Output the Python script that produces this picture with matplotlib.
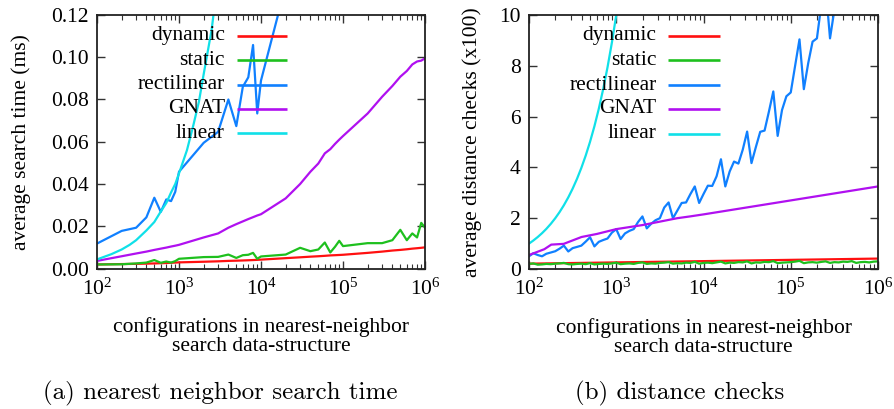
import matplotlib
matplotlib.use('Agg')
import matplotlib.pyplot as plt
from matplotlib.ticker import LogLocator, NullFormatter

plt.rcParams['font.family'] = ['Liberation Serif', 'DejaVu Serif']
plt.rcParams['mathtext.fontset'] = 'custom'
plt.rcParams['mathtext.rm'] = 'Liberation Serif'
plt.rcParams['mathtext.it'] = 'Liberation Serif:italic'

# ---------------- data ----------------
labels = ['dynamic', 'static', 'rectilinear', 'GNAT', 'linear']
colors = ['#ff1010', '#1ec01e', '#1080ff', '#b010f0', '#10e0e8']

x_ticks = [1e2, 1e3, 1e4, 1e5, 1e6]
x_tick_labels = ['$10^{2}$', '$10^{3}$', '$10^{4}$', '$10^{5}$', '$10^{6}$']

# panel (a): average search time (ms)
xs_a = [100, 200, 300, 400, 500, 600, 700, 800, 900,
        1000, 2000, 3000, 4000, 5000, 6000, 7000, 8000, 9000,
        10000, 20000, 30000, 40000, 50000, 60000, 70000, 80000, 90000,
        100000, 200000, 300000, 400000, 500000, 600000, 700000, 800000, 900000,
        1000000]
dynamic_a = [0.0019, 0.0021, 0.0022, 0.0023, 0.0024, 0.0025, 0.0026, 0.0027, 0.0028,
             0.0029, 0.0032, 0.0034, 0.0036, 0.0037, 0.0038, 0.0039, 0.0040, 0.0041,
             0.0042, 0.0049, 0.0053, 0.0056, 0.0058, 0.0060, 0.0062, 0.0063, 0.0064,
             0.0065, 0.0074, 0.0080, 0.0085, 0.0088, 0.0091, 0.0094, 0.0096, 0.0098,
             0.0100]
static_a = [0.0019, 0.0020, 0.0024, 0.0028, 0.0040, 0.0027, 0.0033, 0.0028, 0.0035,
            0.0046, 0.0054, 0.0055, 0.0066, 0.0050, 0.0063, 0.0065, 0.0074, 0.0046,
            0.0057, 0.0066, 0.0098, 0.0082, 0.0090, 0.0123, 0.0076, 0.0103, 0.0131,
            0.0106, 0.0120, 0.0120, 0.0134, 0.0183, 0.0134, 0.0166, 0.0147, 0.0216,
            0.0193]
xs_rect_a = [100, 200, 300, 400, 500, 600, 700, 800, 900,
             1000, 2000, 3000, 4000, 5000, 6000, 7000, 8000, 9000,
             10000, 20000, 30000]
rect_a = [0.0118, 0.0178, 0.0193, 0.0242, 0.0335, 0.0268, 0.0327, 0.0319, 0.0363,
          0.0458, 0.0595, 0.0647, 0.0800, 0.0674, 0.0860, 0.0905, 0.1058, 0.0734,
          0.0890, 0.1340, 0.1700]
gnat_a = [0.0036, 0.0058, 0.0071, 0.0080, 0.0088, 0.0094, 0.0099, 0.0104, 0.0108,
          0.0112, 0.0147, 0.0166, 0.0193, 0.0210, 0.0223, 0.0234, 0.0243, 0.0251,
          0.0257, 0.0332, 0.0400, 0.0458, 0.0497, 0.0545, 0.0565, 0.0590, 0.0610,
          0.0627, 0.0734, 0.0813, 0.0864, 0.0908, 0.0935, 0.0966, 0.0980, 0.0984,
          0.0995]
xs_lin_a = [100, 150, 200, 250, 300, 400, 500, 600, 700, 800, 900, 1000,
            1250, 1500, 1750, 2000, 2500, 3000]
linear_a = [0.0043, 0.0068, 0.0090, 0.0112, 0.0134, 0.0180, 0.0220, 0.0270, 0.0310,
            0.0360, 0.0400, 0.0450, 0.0560, 0.0680, 0.0790, 0.0920, 0.1130, 0.1380]

# panel (b): average distance checks (x100)
xs_b = [100, 112, 126, 141, 158, 178, 200, 224, 251, 282, 316, 355, 398, 447, 501,
        562, 631, 708, 794, 891,
        1000, 1122, 1259, 1413, 1585, 1778, 1995, 2239, 2512, 2818, 3162, 3548, 3981,
        4467, 5012, 5623, 6310, 7079, 7943, 8913,
        10000, 11220, 12589, 14125, 15849, 17783, 19953, 22387, 25119, 28184, 31623,
        35481, 39811, 44668, 50119, 56234, 63096, 70795, 79433, 89125,
        100000, 112202, 125893, 141254, 158489, 177828, 199526, 223872, 251189,
        281838, 316228, 354813, 398107, 446684, 501187, 562341, 630957, 707946,
        794328, 891251, 1000000]
rect_b = [0.50, 0.62, 0.55, 0.50, 0.60, 0.65, 0.70, 0.80, 0.92, 0.69,
          0.82, 0.87, 0.92, 1.08, 1.25, 0.89, 1.07, 1.14, 1.20, 1.43,
          1.57, 1.18, 1.40, 1.50, 1.57, 1.85, 2.07, 1.60, 1.78, 1.92,
          2.00, 2.42, 2.62, 2.00, 2.30, 2.60, 2.62, 2.95, 3.25, 2.60,
          2.95, 3.28, 3.27, 3.65, 4.32, 3.25, 3.84, 4.23, 4.15, 4.70,
          5.41, 4.17, 4.80, 5.40, 5.45, 6.20, 6.99, 5.24, 6.26, 6.80,
          6.95, 8.00, 9.04, 7.08, 8.10, 8.95, 9.08, 10.4, 11.1, 9.08,
          10.2, 11.5, 12.3, 12.5, 14.0, 12.0, 13.5, 15.0, 15.5, 17.0,
          19.0]
static_b = [0.20, 0.22, 0.17, 0.18, 0.20, 0.19, 0.21, 0.22, 0.24, 0.19,
            0.18, 0.20, 0.21, 0.19, 0.23, 0.18, 0.20, 0.21, 0.20, 0.22,
            0.25, 0.19, 0.21, 0.22, 0.20, 0.24, 0.26, 0.20, 0.22, 0.21,
            0.24, 0.25, 0.27, 0.21, 0.23, 0.22, 0.25, 0.24, 0.28, 0.21,
            0.24, 0.25, 0.23, 0.26, 0.29, 0.22, 0.25, 0.24, 0.27, 0.26,
            0.30, 0.22, 0.26, 0.25, 0.28, 0.27, 0.31, 0.23, 0.25, 0.26,
            0.27, 0.29, 0.32, 0.23, 0.26, 0.27, 0.25, 0.28, 0.30, 0.24,
            0.27, 0.26, 0.29, 0.28, 0.31, 0.24, 0.27, 0.28, 0.26, 0.29,
            0.30]
xs_dyn_b = [100, 1000, 10000, 100000, 1000000]
dynamic_b = [0.21, 0.26, 0.31, 0.36, 0.41]
xs_gnat_b = [100, 150, 180, 250, 400, 600, 1000, 2000, 5000, 7000, 10000, 100000, 1000000]
gnat_b = [0.55, 0.78, 0.96, 0.99, 1.26, 1.38, 1.57, 1.73, 2.00, 2.07, 2.15, 2.70, 3.25]
xs_lin_b = [100, 112, 126, 141, 158, 178, 200, 224, 251, 282, 316, 355, 398, 447, 501,
            562, 631, 708, 794, 891, 1000, 1122]
linear_b = [1.00, 1.12, 1.26, 1.41, 1.58, 1.78, 2.00, 2.24, 2.51, 2.82, 3.16, 3.55,
            3.98, 4.47, 5.01, 5.62, 6.31, 7.08, 7.94, 8.91, 10.0, 11.2]

# ---------------- figure ----------------
fig = plt.figure(figsize=(8.94, 4.09), dpi=100)
ax_a = fig.add_axes([97 / 894, 1 - 268.5 / 409, 328 / 894, 253.5 / 409])
ax_b = fig.add_axes([529 / 894, 1 - 269 / 409, 349 / 894, 254 / 409])

FS = 15.5
LW = 1.6


def style(ax, ylim, yticks, yticklabels, ylabel, ylabelpad):
    ax.set_xscale('log')
    ax.set_xlim(1e2, 1e6)
    ax.set_ylim(*ylim)
    ax.set_xticks(x_ticks)
    ax.set_xticklabels(x_tick_labels, fontsize=FS)
    ax.xaxis.set_minor_locator(LogLocator(base=10, subs=range(2, 10), numticks=20))
    ax.xaxis.set_minor_formatter(NullFormatter())
    ax.set_yticks(yticks)
    ax.set_yticklabels(yticklabels, fontsize=FS)
    ax.tick_params(which='both', direction='in', top=True, right=True, color='#333333')
    ax.tick_params(which='major', length=6, width=1.0)
    ax.tick_params(which='minor', length=3.5, width=0.8)
    ax.tick_params(axis='x', which='major', pad=7)
    ax.tick_params(axis='y', which='major', pad=6)
    for s in ax.spines.values():
        s.set_linewidth(1.3)
        s.set_color('#222222')
    ax.set_ylabel(ylabel, fontsize=FS, labelpad=ylabelpad)
    ax.set_xlabel('configurations in nearest-neighbor\nsearch data-structure',
                  fontsize=FS, labelpad=13, linespacing=1.0)


def legend(ax, text_x, line_x0, line_x1):
    ys = [0.918, 0.821, 0.724, 0.630, 0.533]
    for lab, col, y in zip(labels, colors, ys):
        ax.text(text_x, y, lab, transform=ax.transAxes, ha='right', va='center',
                fontsize=FS)
        ax.plot([line_x0, line_x1], [y, y], transform=ax.transAxes, color=col,
                lw=LW + 0.3, solid_capstyle='butt')


# panel (a)
ax_a.plot(xs_a, dynamic_a, color=colors[0], lw=LW)
ax_a.plot(xs_a, static_a, color=colors[1], lw=LW)
ax_a.plot(xs_rect_a, rect_a, color=colors[2], lw=LW)
ax_a.plot(xs_a, gnat_a, color=colors[3], lw=LW)
ax_a.plot(xs_lin_a, linear_a, color=colors[4], lw=LW)
style(ax_a, (0, 0.12), [0, 0.02, 0.04, 0.06, 0.08, 0.10, 0.12],
      ['0.00', '0.02', '0.04', '0.06', '0.08', '0.10', '0.12'],
      'average search time (ms)', 14)
legend(ax_a, 0.39, 0.426, 0.578)

# panel (b)
ax_b.plot(xs_dyn_b, dynamic_b, color=colors[0], lw=LW)
ax_b.plot(xs_b, static_b, color=colors[1], lw=LW)
ax_b.plot(xs_b, rect_b, color=colors[2], lw=LW)
ax_b.plot(xs_gnat_b, gnat_b, color=colors[3], lw=LW)
ax_b.plot(xs_lin_b, linear_b, color=colors[4], lw=LW)
style(ax_b, (0, 10), [0, 2, 4, 6, 8, 10], ['0', '2', '4', '6', '8', '10'],
      'average distance checks (x100)', 12)
legend(ax_b, 0.366, 0.399, 0.546)

fig.text(220 / 894, 1 - 393 / 409, '(a) nearest neighbor search time',
         family='cmr10', fontsize=18, ha='center', va='center')
fig.text(680 / 894, 1 - 393 / 409, '(b) distance checks',
         family='cmr10', fontsize=18, ha='center', va='center')

fig.savefig('out.png', dpi=100)
